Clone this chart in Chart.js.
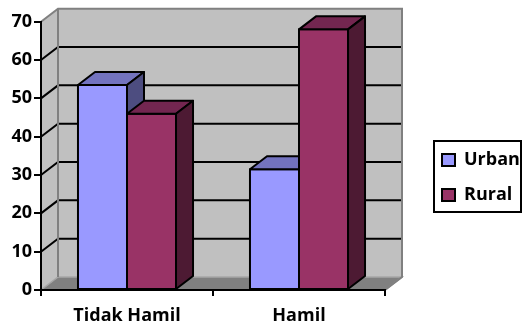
<!DOCTYPE html>
<html>
<head>
<meta charset="utf-8">
<script src="https://cdn.jsdelivr.net/npm/chart.js@4.4.1/dist/chart.umd.min.js"></script>
<style>
  html, body { margin: 0; padding: 0; background: #fff; }
</style>
</head>
<body>
<canvas id="ch" width="522" height="325"></canvas>
<script>
/* ── Dati ── */
const categories = ['Tidak Hamil', 'Hamil'];
const seriesNames = ['Urban', 'Rural'];
const urban = [53.5, 31.5];
const rural = [46, 68];
const yMax = 70;
const yStep = 10;

/* ── Stile ── */
const FONT = { family: "'Open Sans'", size: 18, weight: 'bold' };
const DX = 17, DY = 13;   // profondita' 3D (verso alto-destra)
const FACES = [
  { front: '#9999ff', top: '#7373bf', side: '#4d4d80' },
  { front: '#993366', top: '#732650', side: '#4d1a33' }
];

function poly(ctx, pts, fill, stroke, lw) {
  ctx.beginPath();
  ctx.moveTo(pts[0][0], pts[0][1]);
  for (let i = 1; i < pts.length; i++) ctx.lineTo(pts[i][0], pts[i][1]);
  ctx.closePath();
  if (fill) { ctx.fillStyle = fill; ctx.fill(); }
  if (stroke) { ctx.strokeStyle = stroke; ctx.lineWidth = lw || 2; ctx.stroke(); }
}

/* pareti, pavimento e griglia sul fondo, barre 3D, cornice legenda */
const box3d = {
  id: 'box3d',
  afterLayout(chart) {
    const lg = chart.legend;
    lg.left = 425; lg.right = 522;
    lg.top = 133; lg.bottom = 222;
    lg.width = lg.right - lg.left; lg.height = lg.bottom - lg.top;
  },
  beforeDraw(chart) {
    const { ctx, scales: { x, y } } = chart;
    const L = x.left, R = x.right;
    const B = y.getPixelForValue(0), T = y.getPixelForValue(yMax);
    ctx.save();
    ctx.lineJoin = 'miter';
    // parete di fondo + sinistra
    poly(ctx, [[L + DX, T - DY], [R + DX, T - DY], [R + DX, B - DY], [L + DX, B - DY]], '#c0c0c0');
    poly(ctx, [[L, T], [L + DX, T - DY], [L + DX, B - DY], [L, B]], '#c0c0c0');
    // pavimento
    poly(ctx, [[L, B], [R, B], [R + DX, B - DY], [L + DX, B - DY]], '#808080', '#a6a6a6', 1.5);
    // griglia: diagonale sulla parete sinistra + orizzontale sul fondo
    ctx.strokeStyle = '#000'; ctx.lineWidth = 2;
    y.ticks.forEach(t => {
      if (t.value <= 0 || t.value >= yMax) return;
      const py = y.getPixelForValue(t.value);
      ctx.beginPath();
      ctx.moveTo(L, py);
      ctx.lineTo(L + DX, py - DY);
      ctx.lineTo(R + DX, py - DY);
      ctx.stroke();
    });
    // bordi grigi delle pareti
    ctx.strokeStyle = '#808080'; ctx.lineWidth = 2;
    ctx.beginPath();
    ctx.moveTo(L, T);
    ctx.lineTo(L + DX, T - DY);
    ctx.lineTo(R + DX, T - DY);
    ctx.lineTo(R + DX, B - DY);
    ctx.lineTo(R, B);
    ctx.moveTo(L + DX, T - DY);
    ctx.lineTo(L + DX, B - DY);
    ctx.stroke();
    ctx.restore();
  },
  afterDatasetsDraw(chart) {
    const ctx = chart.ctx;
    ctx.save();
    ctx.lineJoin = 'round';
    categories.forEach((_, i) => {
      chart.data.datasets.forEach((ds, d) => {
        const bar = chart.getDatasetMeta(d).data[i];
        const p = bar.getProps(['x', 'y', 'base', 'width'], true);
        const l = p.x - p.width / 2, r = p.x + p.width / 2;
        const top = p.y, base = p.base;
        const f = FACES[d];
        poly(ctx, [[l, top], [r, top], [r, base], [l, base]], f.front, '#000', 2);
        poly(ctx, [[l, top], [l + DX, top - DY], [r + DX, top - DY], [r, top]], f.top, '#000', 2);
        poly(ctx, [[r, top], [r + DX, top - DY], [r + DX, base - DY], [r, base]], f.side, '#000', 2);
      });
    });
    ctx.restore();
  },
  afterDraw(chart) {
    const ctx = chart.ctx;
    ctx.save();
    ctx.strokeStyle = '#000'; ctx.lineWidth = 2;
    ctx.strokeRect(434, 141, 87, 71);
    ctx.restore();
  }
};

new Chart(document.getElementById('ch'), {
  type: 'bar',
  data: {
    labels: categories,
    datasets: [
      { label: seriesNames[0], data: urban, backgroundColor: FACES[0].front, borderColor: '#000', borderWidth: 2 },
      { label: seriesNames[1], data: rural, backgroundColor: FACES[1].front, borderColor: '#000', borderWidth: 2 }
    ]
  },
  options: {
    responsive: false,
    animation: false,
    events: [],
    devicePixelRatio: 1,
    categoryPercentage: 0.57,
    barPercentage: 1,
    layout: { padding: { top: 21.7, right: 117, bottom: 0, left: 0 } },
    plugins: {
      tooltip: { enabled: false },
      legend: {
        position: 'right',
        maxWidth: 20,
        labels: { font: FONT, color: '#000', boxWidth: 13, boxHeight: 12, padding: 17 }
      }
    },
    scales: {
      x: {
        offset: true,
        grid: { offset: true, drawOnChartArea: false, tickLength: 6, color: '#000', lineWidth: 2 },
        border: { display: true, color: '#000', width: 2 },
        ticks: { font: FONT, color: '#000', padding: 9, maxRotation: 0 },
        afterFit: s => { s.height = 35; }
      },
      y: {
        min: 0, max: yMax,
        ticks: { stepSize: yStep, font: FONT, color: '#000', padding: 2 },
        grid: { drawOnChartArea: false, tickLength: 7, color: '#000', lineWidth: 2 },
        border: { display: true, color: '#000', width: 2 },
        afterFit: s => { s.width = 41; }
      }
    }
  },
  plugins: [box3d]
});
</script>
</body>
</html>
